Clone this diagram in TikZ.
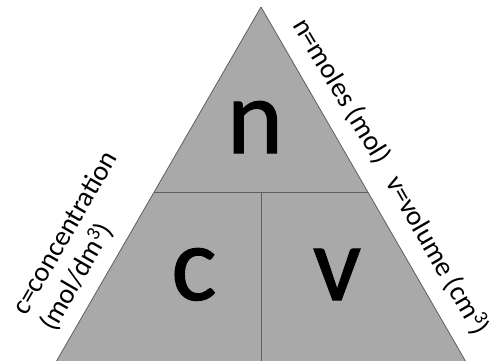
\documentclass[tikz,border=0pt]{standalone}
\usepackage{fontspec}
\setmainfont{Carlito}
\newfontface\fatface[FakeBold=1]{Carlito}
\usetikzlibrary{positioning,calc}
\definecolor{trifill}{HTML}{A9A9A9}
\definecolor{triline}{HTML}{5F5F5F}

\begin{document}
\begin{tikzpicture}[x=1pt,y=-1pt,
			big/.style={font=\fatface\fontsize{107}{107}\selectfont,inner sep=0,anchor=base},
			side/.style={font=\fontsize{28}{32}\selectfont,inner sep=0,anchor=base west},
			edge/.style={draw=triline,line width=0.8pt}]
			\useasboundingbox (0,0) rectangle (493,360);
			\coordinate (top) at (261,7);
			\coordinate (bl) at (34,400);
			\coordinate (br) at (488,400);
			\coordinate (ml) at (154,192);
			\coordinate (mr) at (368,192);
			\coordinate (mid) at (261,192);
			\coordinate (bot) at (261,400);
			\begin{scope}
				\clip (0,0) rectangle (493,360);
				\fill[trifill] (top) -- (br) -- (bl) -- cycle;
				\draw[edge] (top) -- (br); \draw[edge] (top) -- (bl);
				\draw[edge] (ml) -- (mr); \draw[edge] (mid) -- (bot);
			\end{scope}
			\node[big] (n) at (255,153) {n};
			\node[big] (c) at (194,300) {c};
			\node[big] (v) at (337,300) {v};
			\node[side,rotate=-59] (moles) at (292,25) {n=moles (mol)};
			\node[side,rotate=-60] (vol) at (385,182) {v=volume (cm\textsuperscript{3})};
			\node[side,rotate=60] (conc) at (26,317) {c=concentration};
			\node[side,rotate=60] (unit) at (54,333) {(mol/dm\textsuperscript{3})};
		\end{tikzpicture}
\end{document}
